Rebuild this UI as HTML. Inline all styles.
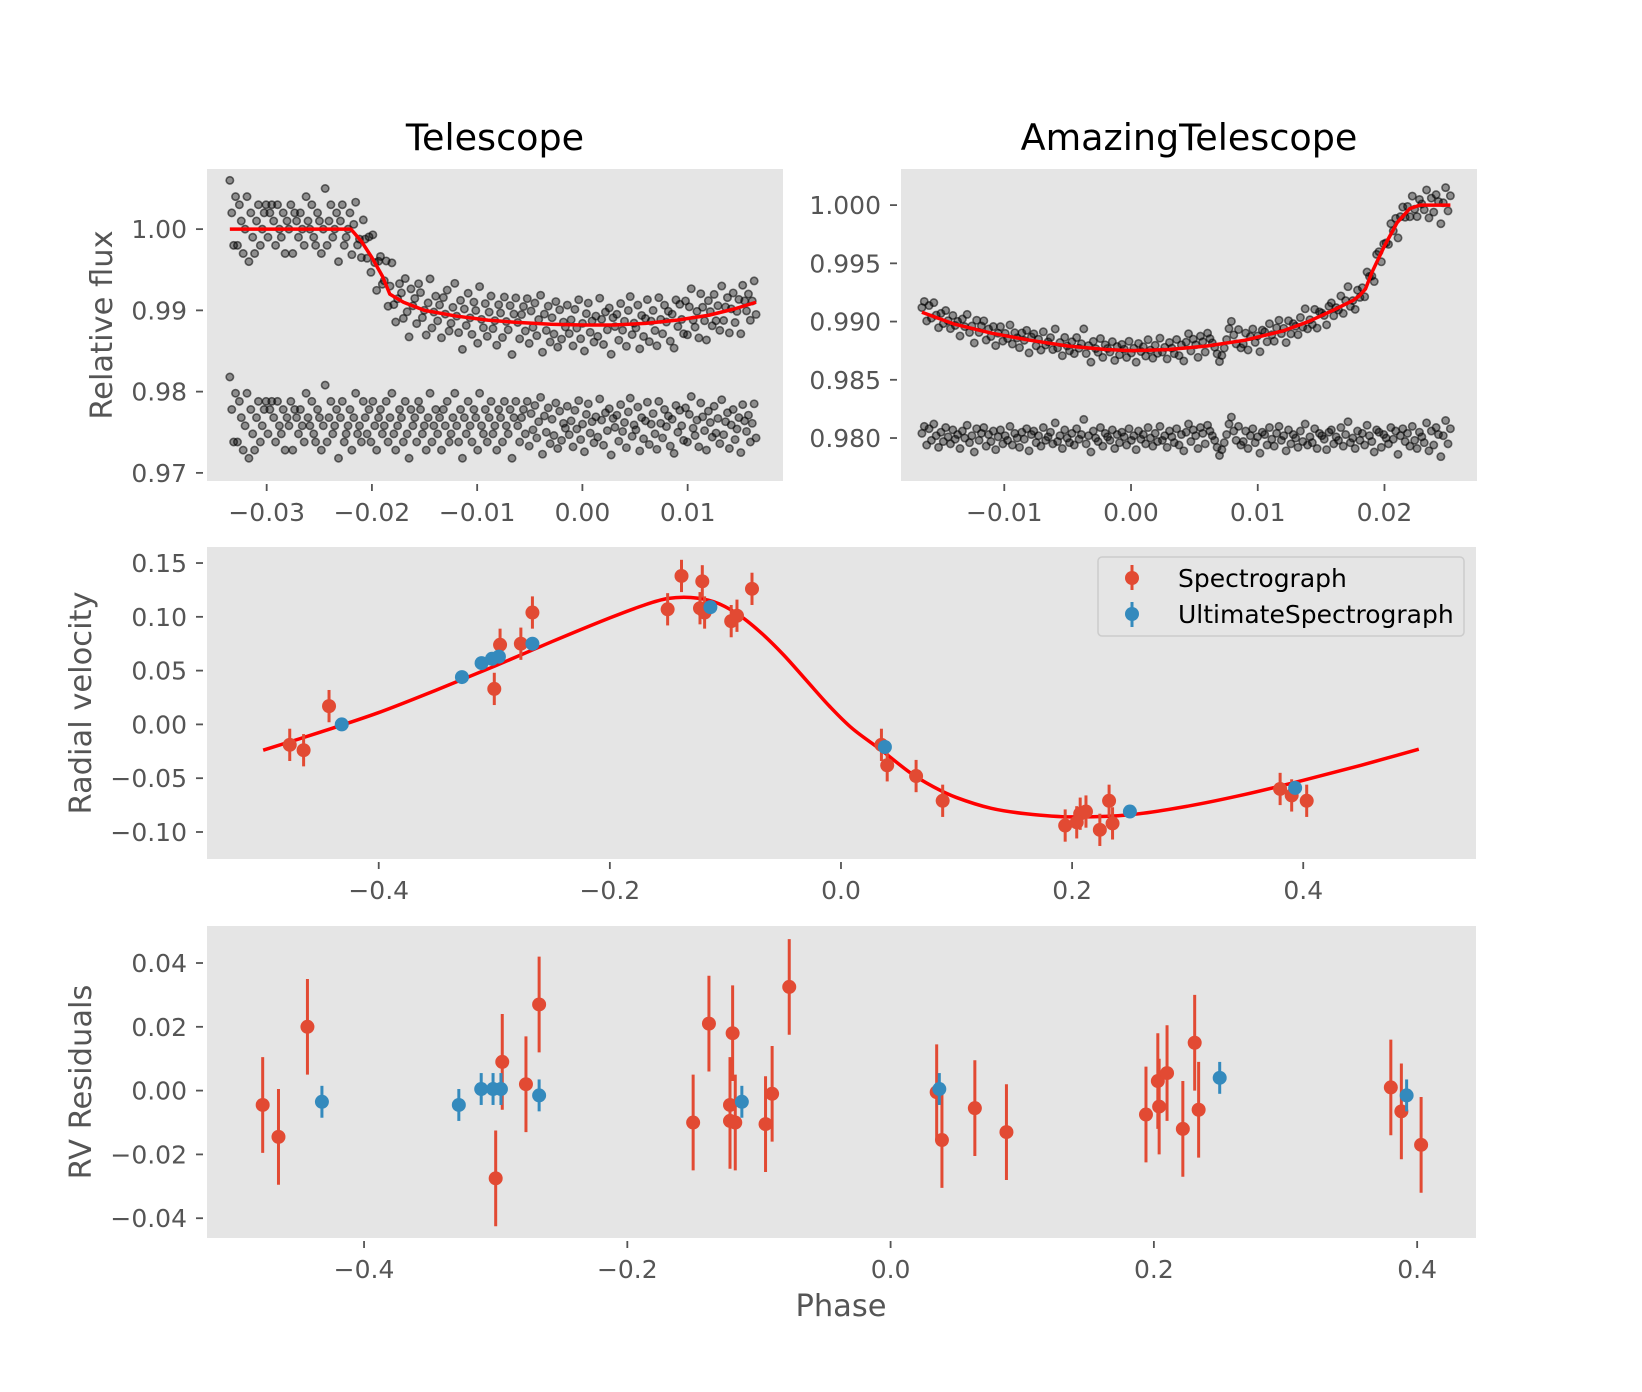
<!DOCTYPE html>
<html><head><meta charset="utf-8"><style>
html,body{margin:0;padding:0;background:#fff}
svg{display:block;font-family:"DejaVu Sans","Liberation Sans",sans-serif}
</style></head><body>
<svg id="fig" width="1642" height="1392" viewBox="0 0 1642 1392" xmlns="http://www.w3.org/2000/svg"></svg>
<script>
// ---- Telescope light curve data ----
const telTimeRange = [-0.0335, 0.0165];
const telResid = [6,2,-2,4,-2,3,1,-3,0,4,-4,2,-1,-3,1,3,-2,0,2,3,-1,2,3,1,-2,3,0,-1,2,-3,1,0,3,-3,2,1,-1,2,0,-2,4,1,0,3,-1,-2,2,1,-3,0,5,-2,1,3,-1,0,2,-4,1,3,-2,-1,0,2,-3,1,4,-1,0,-2,3,1,-1,2,-2,3,0,-3,1,2,-1,0,3,-2,1,4,-1,-3,0,2,1,-2,3,-1,-4,2,0,1,-2,3,2,-1,0,-3,1,4,-2,0,2,-1,1,-3,2,0,3,-2,-1,1,4,0,-2,2,-4,1,-1,3,0,-2,2,1,-3,4,0,-1,2,-2,1,3,-1,0,-3,2,1,-2,3,0,-1,2,-4,1,3,0,-2,1,2,-1,3,-2.5,1.5,-0.5,2.5,-1.5,0.5,3.5,-3.5,1.2,-0.8,2.2,-2.2,0.8,-1.2,2.8,-2.8,1.8,-1.8,0.3,-0.3,
 2.4,-1.1,0.6,-2.6,1.9,-0.4,3.1,-1.7,0.2,-3.2,1.4,2.7,-0.9,0.5,-2.1,1.1,-1.4,3.3,0.7,-2.4,1.6,-0.6,2.1,-3.6,0.9,-0.2,1.3,-1.9,2.6,-0.7,0.4,-2.7,1.7,3.4,-1.3,0.1,-0.5,2.3,-3.1,1.0,-1.6,0.6,2.9,-2.3,0.2,1.5,-1.0,-2.9,3.0,0.3,-1.5,2.0,-0.1,1.2,-2.5,0.8,-3.4,2.5,-0.8,1.9,0.0,-1.8,2.2,-2.0,1.4,3.6,-0.3,-1.2,0.7,-2.6,2.8,1.1,-0.6,-3.0,1.8,0.4,-1.4,2.4,-0.9,0.9,-2.2,3.2,-1.1,0.5,1.6,-2.8,0.1,2.0,-1.7,-0.4,1.0,-3.3,2.6,0.6,-0.7,1.3,-2.0,0.3,2.7,-1.5];
const telModelT = [-0.0335,-0.022,-0.021,-0.020,-0.019,-0.0183,-0.017,-0.015,-0.012,-0.009,-0.006,-0.003,0,0.003,0.006,0.009,0.012,0.0145,0.0165];
const telModelF = [1.000,1.000,0.9985,0.9965,0.9942,0.9920,0.9910,0.9900,0.9893,0.9888,0.9885,0.9883,0.9882,0.9882,0.9884,0.9888,0.9894,0.9902,0.9910];
const telResidOffset = 0.9758;
const telXTicks = [-0.03,-0.02,-0.01,0.00,0.01];
const telXTickLabels = ["−0.03","−0.02","−0.01","0.00","0.01"];
const telYTicks = [1.00,0.99,0.98,0.97];
const telYTickLabels = ["1.00","0.99","0.98","0.97"];
// ---- AmazingTelescope light curve data ----
const amzTimeRange = [-0.0165, 0.0252];
const amzResid = [0.4,1.0,-0.6,0.8,-0.2,1.2,0.2,-0.8,0.5,-0.3,0.9,0.1,-0.5,0.7,-0.1,0.3,-0.9,0.6,0.0,1.1,-0.4,0.2,-1.2,0.8,-0.2,0.4,0.9,-0.7,0.3,-0.3,0.6,-1.0,0.1,0.7,-0.5,0.2,-0.2,1.0,-0.6,0.4,0.0,-0.8,0.5,-0.1,0.8,-1.1,0.3,0.6,-0.4,0.2,-0.7,0.9,-0.2,0.1,0.5,-0.5,1.3,-0.3,0.2,-0.9,0.7,0.0,-0.4,0.4,-0.6,0.8,-0.1,0.3,1.6,-0.5,0.2,-1.2,0.6,0.0,-0.3,0.9,-0.7,0.4,0.1,-0.2,0.7,-0.9,0.3,-0.4,0.5,0.1,-0.6,0.8,-0.2,0.2,-1.0,0.6,-0.1,0.3,-0.5,0.9,0.0,-0.7,0.4,-0.3,1.0,-0.2,0.2,-0.8,0.6,0.1,-0.4,0.8,-0.6,0.3,-1.1,0.5,1.2,-0.3,0.7,0.2,-0.9,0.9,0.4,-0.5,1.1,0.6,0.2,-0.2,-0.8,-1.5,-1.0,-0.4,0.3,1.2,1.8,0.6,-0.2,1.0,-0.6,
 -0.3,0.6,-0.9,0.2,0.8,-0.4,0.1,-1.3,0.5,0.3,-0.6,0.9,-0.1,-0.7,0.4,1.0,-0.2,0.2,-1.1,0.7,-0.5,0.3,0.0,-0.8,0.6,-0.3,1.2,-0.6,0.1,-0.4,0.8,-0.9,0.4,0.2,-0.1,-1.0,0.5,0.7,-0.5,0.1,-0.2,0.9,-0.7,0.3,1.4,-0.4,0.0,-0.9,0.6,-0.2,0.4,-0.6,1.1,0.2,-0.3,-1.2,0.7,0.5,-0.8,0.3,0.0,-0.5,0.9,-0.1,0.6,-1.4,0.2,0.8,-0.3,0.4,-0.7,1.0,-0.2,-0.9,0.5,0.1,-0.4,1.3,-1.1,0.6,-0.6,0.9,0.3,-1.6,0.2,1.5,-0.5,0.8];
const amzModelT = [-0.0165,-0.014,-0.011,-0.008,-0.005,-0.002,0,0.003,0.006,0.009,0.012,0.014,0.016,0.0175,0.018,0.0185,0.019,0.020,0.021,0.022,0.0228,0.0252];
const amzModelF = [0.9908,0.9898,0.9890,0.9884,0.9879,0.9876,0.9875,0.9876,0.9879,0.9884,0.9892,0.9900,0.9910,0.9918,0.9922,0.9928,0.9942,0.9965,0.9985,0.9997,1.000,1.000];
const amzResidOffset = 0.9800;
const amzXTicks = [-0.01,0.00,0.01,0.02];
const amzXTickLabels = ["−0.01","0.00","0.01","0.02"];
const amzYTicks = [1.000,0.995,0.990,0.985,0.980];
const amzYTickLabels = ["1.000","0.995","0.990","0.985","0.980"];
// ---- RV data ----
const rvModelPhase = [-0.5,-0.45,-0.4,-0.35,-0.3,-0.25,-0.2,-0.17,-0.15,-0.13,-0.11,-0.09,-0.07,-0.05,-0.03,-0.01,0.01,0.035,0.06,0.08,0.1,0.13,0.16,0.2,0.25,0.3,0.35,0.4,0.45,0.5];
const rvModelVel = [-0.024,-0.007,0.011,0.032,0.054,0.077,0.099,0.111,0.117,0.118,0.114,0.103,0.086,0.065,0.041,0.017,-0.004,-0.024,-0.045,-0.058,-0.068,-0.078,-0.083,-0.086,-0.084,-0.076,-0.065,-0.052,-0.038,-0.023];
const specPhase = [-0.477,-0.465,-0.443,-0.300,-0.295,-0.277,-0.267,-0.150,-0.138,-0.122,-0.120,-0.118,-0.095,-0.090,-0.077,0.035,0.040,0.065,0.088,0.194,0.204,0.207,0.212,0.224,0.232,0.235,0.380,0.390,0.403];
const specVel = [-0.019,-0.024,0.017,0.033,0.074,0.075,0.104,0.107,0.138,0.108,0.133,0.104,0.096,0.101,0.126,-0.019,-0.038,-0.048,-0.071,-0.094,-0.091,-0.083,-0.081,-0.098,-0.071,-0.092,-0.060,-0.066,-0.071];
const specErr = 0.015;
const ultPhase = [-0.432,-0.328,-0.311,-0.302,-0.296,-0.267,-0.113,0.038,0.250,0.393];
const ultVel = [0.000,0.044,0.057,0.061,0.063,0.075,0.109,-0.021,-0.081,-0.059];
const ultErr = 0.005;
const rvXTicks = [-0.4,-0.2,0.0,0.2,0.4];
const rvXTickLabels = ["−0.4","−0.2","0.0","0.2","0.4"];
const rvYTicks = [0.15,0.10,0.05,0.00,-0.05,-0.10];
const rvYTickLabels = ["0.15","0.10","0.05","0.00","−0.05","−0.10"];
// ---- Residuals ----
const specResPhase = [-0.477,-0.465,-0.443,-0.300,-0.295,-0.277,-0.267,-0.150,-0.138,-0.122,-0.122,-0.120,-0.118,-0.095,-0.090,-0.077,0.035,0.039,0.064,0.088,0.194,0.203,0.204,0.210,0.222,0.231,0.234,0.380,0.388,0.403];
const specRes = [-0.0045,-0.0145,0.020,-0.0275,0.009,0.002,0.027,-0.010,0.021,-0.0045,-0.0095,0.018,-0.010,-0.0105,-0.001,0.0325,-0.0005,-0.0155,-0.0055,-0.013,-0.0075,0.003,-0.005,0.0055,-0.012,0.015,-0.006,0.001,-0.0065,-0.017];
const ultResPhase = [-0.432,-0.328,-0.311,-0.302,-0.296,-0.267,-0.113,0.037,0.250,0.392];
const ultRes = [-0.0035,-0.0045,0.0005,0.0005,0.0005,-0.0015,-0.0035,0.0005,0.004,-0.0015];
const resYTicks = [0.04,0.02,0.00,-0.02,-0.04];
const resYTickLabels = ["0.04","0.02","0.00","−0.02","−0.04"];

const NS = "http://www.w3.org/2000/svg";
const svg = document.getElementById('fig');
function mk(tag, attrs, parent){const e=document.createElementNS(NS,tag);for(const k in attrs)e.setAttribute(k,attrs[k]);(parent||svg).appendChild(e);return e;}
function scale(d0,d1,r0,r1){return v=>r0+(v-d0)/(d1-d0)*(r1-r0);}

function axes(name, box, xs, ys, xt, xtl, yt, ytl, xlabBase){
  const g = mk('g',{});
  
  
  const bg = mk('rect',{x:box[0],y:box[1],width:box[2]-box[0],height:box[3]-box[1],fill:'#e5e5e5'},g);
  
  
  xt.forEach((v,i)=>{
    const x = xs(v);
    const t = mk('line',{x1:x,x2:x,y1:box[3]+3,y2:box[3]+10,stroke:'#555','stroke-width':1.8},g);
    
    
    const l = mk('text',{x:x,y:xlabBase,'text-anchor':'middle','font-size':25,fill:'#555'},g);
    l.textContent = xtl[i];
    
    
  });
  yt.forEach((v,i)=>{
    const y = ys(v);
    const t = mk('line',{x1:box[0]-11,x2:box[0]-4,y1:y,y2:y,stroke:'#555','stroke-width':1.8},g);
    
    
    const l = mk('text',{x:box[0]-20,y:y+9,'text-anchor':'end','font-size':25,fill:'#555'},g);
    l.textContent = ytl[i];
    
    
  });
  return g;
}
function lcPoints(g, times, fluxes, xs, ys, nm){
  times.forEach((t,i)=>{
    const c = mk('circle',{cx:xs(t),cy:ys(fluxes[i]),r:3.7,fill:'rgba(0,0,0,0.38)',stroke:'rgba(0,0,0,0.55)','stroke-width':1.6},g);
    
    
  });
}
function interp(xa, ya, x){
  for(let i=0;i<xa.length-1;i++){ if(x<=xa[i+1]){const f=(x-xa[i])/(xa[i+1]-xa[i]);return ya[i]+f*(ya[i+1]-ya[i]);} }
  return ya[ya.length-1];
}
function line(g, xa, ya, xs, ys, nm, smooth){
  const P = xa.map((v,i)=>[xs(v),ys(ya[i])]);
  let d = 'M'+P[0][0].toFixed(2)+','+P[0][1].toFixed(2);
  for(let i=0;i<P.length-1;i++){
    if(smooth){
      const p0=P[Math.max(0,i-1)],p1=P[i],p2=P[i+1],p3=P[Math.min(P.length-1,i+2)];
      const c1=[p1[0]+(p2[0]-p0[0])/6,p1[1]+(p2[1]-p0[1])/6];
      const c2=[p2[0]-(p3[0]-p1[0])/6,p2[1]-(p3[1]-p1[1])/6];
      d+=' C'+c1[0].toFixed(2)+','+c1[1].toFixed(2)+' '+c2[0].toFixed(2)+','+c2[1].toFixed(2)+' '+p2[0].toFixed(2)+','+p2[1].toFixed(2);
    } else d+=' L'+P[i+1][0].toFixed(2)+','+P[i+1][1].toFixed(2);
  }
  const p = mk('path',{d:d,fill:'none',stroke:'#ff0000','stroke-width':3.5,'stroke-linejoin':'round'},g);
  
  
}
function lightCurve(name, box, xr, yr, range, resid, mT, mF, off, xt, xtl, yt, ytl){
  const xs = scale(xr[0],xr[1],box[0],box[2]);
  const ys = scale(yr[0],yr[1],box[3],box[1]);
  const g = axes(name, box, xs, ys, xt, xtl, yt, ytl, 521);
  const n = resid.length;
  const times = resid.map((_,i)=>range[0]+i*(range[1]-range[0])/(n-1));
  const top = times.map((t,i)=>interp(mT,mF,t)+resid[i]/1000);
  const bot = times.map((t,i)=>off+resid[i]/1000);
  lcPoints(g, times, top, xs, ys, 'flux-point');
  lcPoints(g, times, bot, xs, ys, 'residual-flux-point');
  line(g, mT, mF, xs, ys, 'transit-model-line', false);
  return g;
}
function errPoints(g, px, py, err, color, xs, ys, nm, lw){
  px.forEach((x,i)=>{
    const X = xs(x);
    const l = mk('line',{x1:X,x2:X,y1:ys(py[i]-err),y2:ys(py[i]+err),stroke:color,'stroke-width':lw},g);
    
    
    const c = mk('circle',{cx:X,cy:ys(py[i]),r:7,fill:color},g);
    
    
  });
}

lightCurve('telescope-panel',[207,169,783,481],[-0.03567,0.01906],[0.9690,1.0074],telTimeRange,telResid,telModelT,telModelF,telResidOffset,telXTicks,telXTickLabels,telYTicks,telYTickLabels);
lightCurve('amazing-telescope-panel',[901,169,1477,481],[-0.01815,0.0273],[0.97631,1.0031],amzTimeRange,amzResid,amzModelT,amzModelF,amzResidOffset,amzXTicks,amzXTickLabels,amzYTicks,amzYTickLabels);

(function(){
  const box=[207,547,1476,859];
  const xs = scale(-0.5486,0.5495,box[0],box[2]);
  const ys = scale(-0.1251,0.1649,box[3],box[1]);
  const g = axes('radial-velocity-panel', box, xs, ys, rvXTicks, rvXTickLabels, rvYTicks, rvYTickLabels, 899);
  line(g, rvModelPhase, rvModelVel, xs, ys, 'rv-model-line', true);
  errPoints(g, specPhase, specVel, specErr, '#E24A33', xs, ys, 'spectrograph', 3);
  errPoints(g, ultPhase, ultVel, ultErr, '#348ABD', xs, ys, 'ultimate-spectrograph', 3);
})();

(function(){
  const box=[207,926,1476,1238];
  const xs = scale(-0.5193,0.4447,box[0],box[2]);
  const ys = scale(-0.0462,0.0516,box[3],box[1]);
  const g = axes('rv-residuals-panel', box, xs, ys, rvXTicks, rvXTickLabels, resYTicks, resYTickLabels, 1278);
  errPoints(g, specResPhase, specRes, specErr, '#E24A33', xs, ys, 'spectrograph-residual', 3);
  errPoints(g, ultResPhase, ultRes, ultErr, '#348ABD', xs, ys, 'ultimate-spectrograph-residual', 3);
})();
</script>
<script>
(function(){
  const svg = document.getElementById('fig');
  const NS = "http://www.w3.org/2000/svg";
  function t(txt, attrs, name){const e=document.createElementNS(NS,'text');for(const k in attrs)e.setAttribute(k,attrs[k]);e.textContent=txt;
    
    
    svg.appendChild(e);return e;}
  t('Telescope',{x:495,y:150,'text-anchor':'middle','font-size':36.5,fill:'#000'},'telescope-title');
  t('AmazingTelescope',{x:1189,y:150,'text-anchor':'middle','font-size':36.5,fill:'#000'},'amazing-telescope-title');
  t('Relative flux',{x:0,y:0,'text-anchor':'middle','font-size':30.5,fill:'#555',transform:'translate(112,325) rotate(-90)'},'y-axis-title-flux');
  t('Radial velocity',{x:0,y:0,'text-anchor':'middle','font-size':30.5,fill:'#555',transform:'translate(91,703) rotate(-90)'},'y-axis-title-rv');
  t('RV Residuals',{x:0,y:0,'text-anchor':'middle','font-size':30.5,fill:'#555',transform:'translate(91,1082) rotate(-90)'},'y-axis-title-residuals');
  t('Phase',{x:841,y:1316,'text-anchor':'middle','font-size':30.5,fill:'#555'},'x-axis-title');
  const lg = document.createElementNS(NS,'g');
  
  
  svg.appendChild(lg);
  function m(tag, attrs){const e=document.createElementNS(NS,tag);for(const k in attrs)e.setAttribute(k,attrs[k]);lg.appendChild(e);return e;}
  const box = m('rect',{x:1098,y:557,width:366,height:79,rx:4,fill:'#e5e5e5',stroke:'#cccccc','stroke-width':1.5});
  
  
  const e1 = m('line',{x1:1132,x2:1132,y1:565,y2:590,stroke:'#E24A33','stroke-width':3});
  
  
  const c1 = m('circle',{cx:1132,cy:578,r:7,fill:'#E24A33'});
  
  
  const e2 = m('line',{x1:1132,x2:1132,y1:602,y2:627,stroke:'#348ABD','stroke-width':3});
  
  
  const c2 = m('circle',{cx:1132,cy:614,r:7,fill:'#348ABD'});
  
  
  const l1 = m('text',{x:1178,y:587,'font-size':25,fill:'#000'}); l1.textContent='Spectrograph';
  
  
  const l2 = m('text',{x:1178,y:623,'font-size':25,fill:'#000'}); l2.textContent='UltimateSpectrograph';
  
  
})();
</script>
</body></html>
